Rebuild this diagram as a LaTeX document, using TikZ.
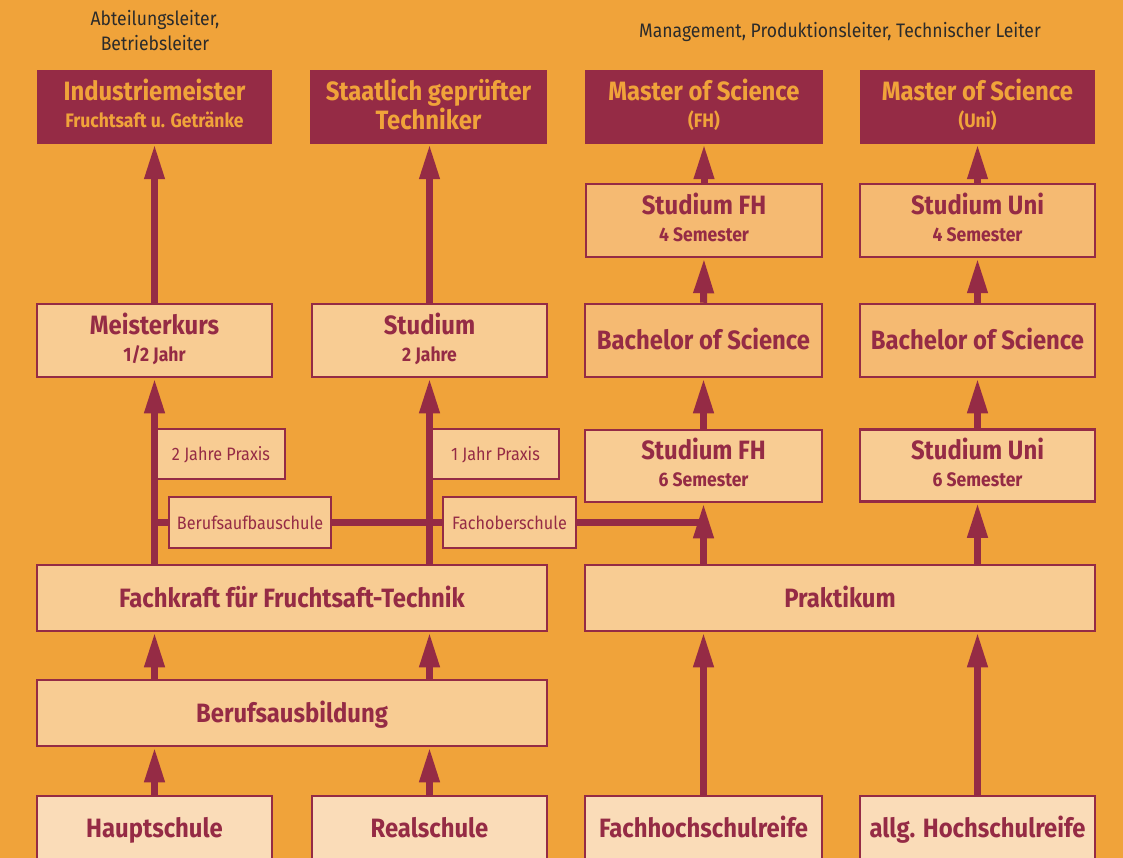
\documentclass[tikz,border=0pt]{standalone}
\usepackage{fontspec}
\setmainfont{Fira Sans}[FakeStretch=0.9]
\usetikzlibrary{arrows.meta}
\definecolor{bg}{HTML}{F0A33A}
\definecolor{mar}{HTML}{952B45}
\definecolor{lfill}{HTML}{F8CC93}
\definecolor{mfill}{HTML}{F5BA72}
\definecolor{bfill}{HTML}{FADCB8}
\definecolor{dtext}{HTML}{2B2B2B}
\tikzset{
  topbox/.style={fill=mar, draw=none, text=bg, inner sep=0pt, minimum height=74pt, align=center, font=\bfseries\fontsize{26.5}{30}\selectfont},
  stdbox/.style={fill=lfill, draw=mar, line width=2.5pt, text=mar, inner sep=0pt, align=center, font=\bfseries\fontsize{26.5}{30}\selectfont},
  one/.style={text height=21pt, text depth=3pt},
  two/.style={text height=46.4pt, text depth=5pt},
  twobig/.style={text height=51pt, text depth=5pt},
  smallbox/.style={fill=lfill, draw=mar, line width=2.5pt, text=mar, inner sep=0pt, align=center, text height=15pt, text depth=2pt, font=\fontsize{18}{20}\selectfont},
  toplabel/.style={text=dtext, align=center, inner sep=0pt, font=\fontsize{19.5}{25}\selectfont},
  up/.style={draw=mar, line width=7pt, -{Triangle[length=35pt,width=19pt]}},
  bar/.style={draw=mar, line width=7pt},
}
\newcommand{\subt}{\bfseries\fontsize{19.5}{22}\selectfont}
\begin{document}
\begin{tikzpicture}[x=1pt,y=-1pt]
\fill[bg] (0,0) rectangle (1123,858);
\useasboundingbox (0,0) rectangle (1123,858);
% top labels
\node[toplabel] (lab1) at (155,31) {Abteilungsleiter,\\Betriebsleiter};
\node[toplabel] (lab2) at (840,32) {Management, Produktionsleiter, Technischer Leiter};
% top row
\node[topbox, two, minimum width=235pt] (im) at (154.5,107) {Industriemeister\\[-3pt]{\subt Fruchtsaft u. Getränke}};
\node[topbox, twobig, minimum width=237pt] (sgt) at (428.5,107) {Staatlich geprüfter\\[-1pt]Techniker};
\node[topbox, two, minimum width=238pt] (mfh) at (704,107) {Master of Science\\[-3pt]{\subt (FH)}};
\node[topbox, two, minimum width=235pt] (muni) at (977.5,107) {Master of Science\\[-3pt]{\subt (Uni)}};
% row 2
\node[stdbox, two, fill=mfill, minimum width=236pt, minimum height=73pt] (sfh4) at (704,220.5) {Studium FH\\[-3pt]{\subt 4 Semester}};
\node[stdbox, two, fill=mfill, minimum width=235pt, minimum height=73pt] (suni4) at (977.5,220.5) {Studium Uni\\[-3pt]{\subt 4 Semester}};
% row 3
\node[stdbox, two, minimum width=235pt, minimum height=73pt] (mk) at (154.5,340.5) {Meisterkurs\\[-3pt]{\subt 1/2 Jahr}};
\node[stdbox, two, minimum width=235pt, minimum height=73pt] (st) at (429.5,340.5) {Studium\\[-3pt]{\subt 2 Jahre}};
\node[stdbox, one, fill=mfill, minimum width=237pt, minimum height=73pt] (bfh) at (703.5,340.5) {Bachelor of Science};
\node[stdbox, one, fill=mfill, minimum width=235pt, minimum height=73pt] (buni) at (977.5,340.5) {Bachelor of Science};
% row 4
\node[stdbox, two, minimum width=237pt, minimum height=72pt] (sfh6) at (703.5,466) {Studium FH\\[-3pt]{\subt 6 Semester}};
\node[stdbox, two, minimum width=235pt, minimum height=72pt] (suni6) at (977.5,465.5) {Studium Uni\\[-3pt]{\subt 6 Semester}};
% row 5, 6, 7
\node[stdbox, one, minimum width=510pt, minimum height=66pt] (fk) at (292,598) {Fachkraft für Fruchtsaft-Technik};
\node[stdbox, one, minimum width=510pt, minimum height=66pt] (pr) at (840,598) {Praktikum};
\node[stdbox, one, minimum width=510pt, minimum height=66pt] (ba) at (292,713) {Berufsausbildung};
\node[stdbox, one, fill=bfill, minimum width=235pt, minimum height=64pt] (hs) at (154.5,828) {Hauptschule};
\node[stdbox, one, fill=bfill, minimum width=235pt, minimum height=64pt] (rs) at (429.5,828) {Realschule};
\node[stdbox, one, fill=bfill, minimum width=237pt, minimum height=64pt] (fhr) at (703.5,828) {Fachhochschulreife};
\node[stdbox, one, fill=bfill, minimum width=235pt, minimum height=64pt] (ahr) at (977.5,828) {allg. Hochschulreife};
% connectors
\coordinate (hl) at (mk.south |- 0,522.5);
\draw[bar] (hl) -- (sfh6.south |- hl);
\draw[up] (hs.north -| mk.south) -- (ba.south -| mk.south);
\draw[up] (rs.north -| st.south) -- (ba.south -| st.south);
\draw[up] (ba.north -| mk.south) -- (fk.south -| mk.south);
\draw[up] (ba.north -| st.south) -- (fk.south -| st.south);
\draw[up] (fk.north -| mk.south) -- (mk.south);
\draw[up] (fk.north -| st.south) -- (st.south);
\draw[up] (mk.north) -- (im.south -| mk.north);
\draw[up] (st.north) -- (sgt.south -| st.north);
\draw[up] (fhr.north) -- (pr.south -| fhr.north);
\draw[up] (ahr.north) -- (pr.south -| ahr.north);
\draw[up] (pr.north -| sfh6.south) -- (sfh6.south);
\draw[up] (pr.north -| suni6.south) -- (suni6.south);
\draw[up] (sfh6.north) -- (bfh.south);
\draw[up] (suni6.north) -- (buni.south);
\draw[up] (bfh.north) -- (sfh4.south);
\draw[up] (buni.north) -- (suni4.south);
\draw[up] (sfh4.north) -- (mfh.south);
\draw[up] (suni4.north) -- (muni.south);
% small label boxes
\node[smallbox, minimum width=128pt, minimum height=50pt] (p2) at (221,454) {2 Jahre Praxis};
\node[smallbox, minimum width=127pt, minimum height=50pt] (p1) at (495.5,454) {1 Jahr Praxis};
\node[smallbox, minimum width=162pt, minimum height=51pt] (bas) at (250,522.5) {Berufsaufbauschule};
\node[smallbox, minimum width=133pt, minimum height=51pt] (fos) at (509.5,522.5) {Fachoberschule};
\end{tikzpicture}
\end{document}
